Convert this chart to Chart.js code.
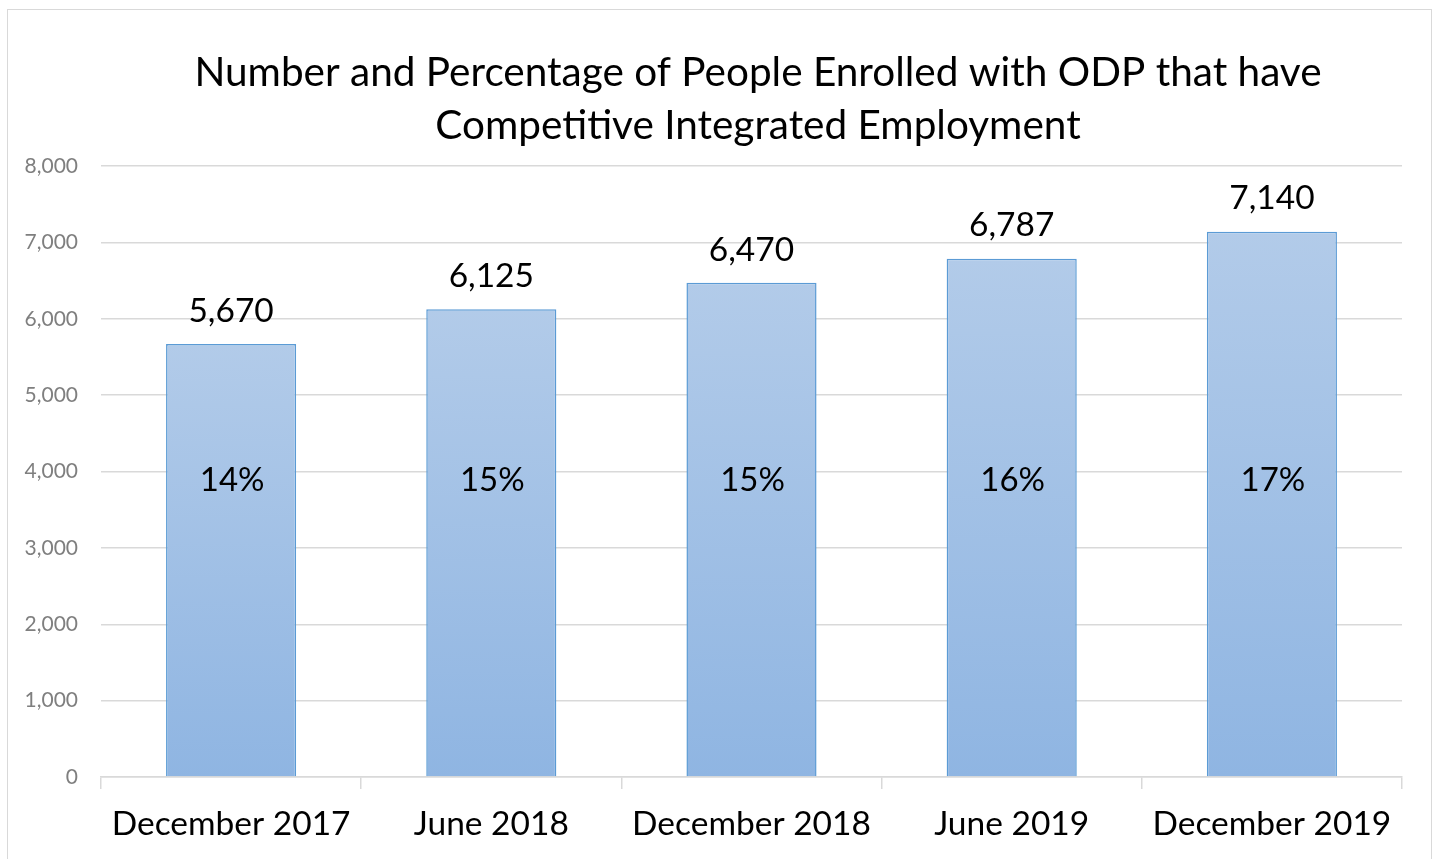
<!DOCTYPE html>
<html>
<head>
<meta charset="utf-8">
<script src="https://cdn.jsdelivr.net/npm/chart.js@4.4.0/dist/chart.umd.min.js"></script>
<style>
  html,body{margin:0;padding:0;background:#fff;}
  #frame{position:absolute;left:7px;top:9px;width:1425px;height:860px;border:1px solid #d9d9d9;box-sizing:border-box;}
  #wrap{position:absolute;left:0;top:0;width:1437px;height:859px;}
</style>
</head>
<body>
<div id="frame"></div>
<div id="wrap"><canvas id="c" width="1437" height="859"></canvas></div>
<script>
const categories = ["December 2017", "June 2018", "December 2018", "June 2019", "December 2019"];
const enrolledCounts = [5670, 6125, 6470, 6787, 7140];
const percentLabels = ["14%", "15%", "15%", "16%", "17%"];
const yTicks = [0, 1000, 2000, 3000, 4000, 5000, 6000, 7000, 8000];
const titleLines = ["Number and Percentage of People Enrolled with ODP that have", "Competitive Integrated Employment"];

const FONT = "Lato, 'Open Sans', sans-serif";

function barGradient(context) {
  const chart = context.chart;
  const ys = chart.scales.y;
  if (!ys || context.dataIndex === undefined) return '#a3c1e6';
  const v = enrolledCounts[context.dataIndex];
  const top = ys.getPixelForValue(v);
  const bot = ys.getPixelForValue(0);
  if (!isFinite(top) || !isFinite(bot)) return '#a3c1e6';
  const g = chart.ctx.createLinearGradient(0, top, 0, bot);
  g.addColorStop(0, '#b2cbe9');
  g.addColorStop(1, '#8fb5e2');
  return g;
}

const labelPlugin = {
  id: 'labels',
  afterDatasetsDraw(chart) {
    const ctx = chart.ctx;
    const meta = chart.getDatasetMeta(0);
    const ys = chart.scales.y;
    ctx.save();
    ctx.fillStyle = '#000';
    ctx.textAlign = 'center';
    ctx.textBaseline = 'middle';
    ctx.font = "33.5px " + FONT;
    meta.data.forEach((bar, i) => {
      ctx.fillText(enrolledCounts[i].toLocaleString('en-US'), bar.x, bar.y - 33);
    });
    ctx.font = "33px " + FONT;
    meta.data.forEach((bar, i) => {
      ctx.fillText(percentLabels[i], bar.x + 1, ys.getPixelForValue(3890));
    });
    ctx.restore();
  }
};

const titlePlugin = {
  id: 'customTitle',
  afterDraw(chart) {
    const ctx = chart.ctx;
    ctx.save();
    ctx.fillStyle = '#000';
    ctx.textAlign = 'center';
    ctx.textBaseline = 'middle';
    ctx.font = "40.5px " + FONT;
    const cx = 758;
    ctx.fillText(titleLines[0], cx, 73);
    ctx.fillText(titleLines[1], cx, 126);
    ctx.restore();
  }
};

new Chart(document.getElementById('c'), {
  type: 'bar',
  data: {
    labels: categories,
    datasets: [{
      data: enrolledCounts,
      backgroundColor: barGradient,
      borderColor: '#5b9bd5',
      borderWidth: 1.5,
      barPercentage: 1.0,
      categoryPercentage: 0.5
    }]
  },
  options: {
    responsive: false,
    animation: false,
    devicePixelRatio: 1,
    layout: { padding: { top: 166, right: 35, left: 0, bottom: 0 } },
    plugins: {
      legend: { display: false },
      title: { display: false },
      tooltip: { enabled: false }
    },
    scales: {
      x: {
        grid: {
          offset: true,
          drawOnChartArea: false,
          drawTicks: true,
          tickLength: 12,
          color: '#d9d9d9',
          lineWidth: 1.5
        },
        border: { display: true, color: '#d9d9d9', width: 1.5 },
        ticks: {
          color: '#000',
          font: { family: FONT, size: 33.5 },
          padding: 15,
          maxRotation: 0,
          autoSkip: false
        },
        afterFit(scale) { scale.height = 82; }
      },
      y: {
        min: 0,
        max: 8000,
        afterBuildTicks(scale) { scale.ticks = yTicks.map(v => ({ value: v })); },
        grid: { color: '#d9d9d9', lineWidth: 1.5, drawTicks: false },
        border: { display: false },
        ticks: {
          color: '#7f7f7f',
          font: { family: FONT, size: 21 },
          padding: 23,
          callback: (v) => Number(v).toLocaleString('en-US')
        },
        afterFit(scale) { scale.width = 101; }
      }
    }
  },
  plugins: [labelPlugin, titlePlugin]
});
</script>
</body>
</html>
